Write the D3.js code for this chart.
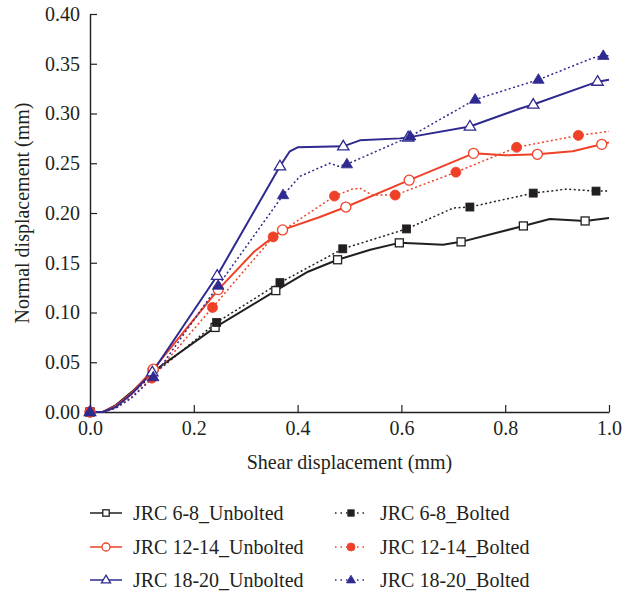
<!DOCTYPE html>
<html>
<head>
<meta charset="utf-8">
<script src="https://cdn.jsdelivr.net/npm/d3@7"></script>
<style>
  html, body { margin: 0; padding: 0; background: #fff; }
  svg { display: block; }
  text { font-family: "Liberation Serif", "Times New Roman", serif; fill: #231f20; }
</style>
</head>
<body>
<svg id="chart" width="634" height="595"></svg>
<script>
// ---- data (x = shear displacement mm, y = normal displacement mm, m = 1 -> marker drawn) ----
const xTicks = [0.0, 0.2, 0.4, 0.6, 0.8, 1.0];
const yTicks = [0.00, 0.05, 0.10, 0.15, 0.20, 0.25, 0.30, 0.35, 0.40];

const jrc68Unbolted = [
  [0, 0, 1], [0.025, 0.0, 0], [0.05, 0.007, 0], [0.08, 0.020, 0], [0.12, 0.040, 1], [0.241, 0.085, 1],
  [0.358, 0.122, 1], [0.42, 0.141, 0], [0.477, 0.153, 1], [0.54, 0.163, 0], [0.596, 0.170, 1],
  [0.64, 0.169, 0], [0.68, 0.168, 0], [0.715, 0.171, 1], [0.835, 0.187, 1], [0.886, 0.194, 0],
  [0.954, 0.192, 1], [1.0, 0.195, 0]
];
const jrc68Bolted = [
  [0, 0, 1], [0.025, 0.0, 0], [0.05, 0.006, 0], [0.08, 0.018, 0], [0.12, 0.037, 1], [0.244, 0.090, 1],
  [0.366, 0.130, 1], [0.487, 0.164, 1], [0.610, 0.184, 1], [0.70, 0.205, 0],
  [0.732, 0.206, 1], [0.854, 0.220, 1], [0.918, 0.224, 0], [0.975, 0.222, 1], [1.0, 0.222, 0]
];
const jrc1214Unbolted = [
  [0, 0, 1], [0.025, 0.0, 0], [0.05, 0.006, 0], [0.08, 0.019, 0], [0.122, 0.043, 1], [0.247, 0.123, 1],
  [0.316, 0.161, 0], [0.371, 0.183, 1], [0.443, 0.196, 0], [0.493, 0.206, 1],
  [0.615, 0.233, 1], [0.739, 0.260, 1], [0.80, 0.258, 0], [0.862, 0.259, 1],
  [0.93, 0.262, 0], [0.986, 0.269, 1], [1.0, 0.271, 0]
];
const jrc1214Bolted = [
  [0, 0, 1], [0.025, 0.0, 0], [0.05, 0.004, 0], [0.08, 0.015, 0], [0.119, 0.034, 1], [0.236, 0.105, 1],
  [0.353, 0.176, 1], [0.471, 0.217, 1], [0.505, 0.224, 0], [0.520, 0.225, 0], [0.543, 0.218, 0],
  [0.588, 0.218, 1], [0.705, 0.241, 1], [0.822, 0.266, 1], [0.941, 0.278, 1], [1.0, 0.282, 0]
];
const jrc1820Unbolted = [
  [0, 0, 1], [0.025, 0.0, 0], [0.05, 0.005, 0], [0.08, 0.018, 0], [0.12, 0.040, 1], [0.245, 0.137, 1],
  [0.366, 0.247, 1], [0.385, 0.262, 0], [0.400, 0.266, 0], [0.488, 0.267, 1],
  [0.520, 0.273, 0], [0.597, 0.275, 0], [0.613, 0.276, 1], [0.732, 0.287, 1],
  [0.829, 0.305, 0], [0.854, 0.309, 1], [0.978, 0.332, 1], [1.0, 0.334, 0]
];
const jrc1820Bolted = [
  [0, 0, 1], [0.025, 0.0, 0], [0.05, 0.004, 0], [0.08, 0.014, 0], [0.122, 0.035, 1], [0.247, 0.127, 1],
  [0.372, 0.218, 1], [0.405, 0.237, 0], [0.462, 0.250, 0], [0.478, 0.247, 0],
  [0.495, 0.249, 1], [0.617, 0.277, 1], [0.742, 0.314, 1], [0.864, 0.334, 1],
  [0.970, 0.356, 0], [0.989, 0.358, 1], [1.0, 0.358, 0]
];

const seriesNames = ["JRC 6-8_Unbolted", "JRC 6-8_Bolted", "JRC 12-14_Unbolted",
                     "JRC 12-14_Bolted", "JRC 18-20_Unbolted", "JRC 18-20_Bolted"];
const seriesData = [jrc68Unbolted, jrc68Bolted, jrc1214Unbolted, jrc1214Bolted, jrc1820Unbolted, jrc1820Bolted];
const seriesColors = ["#231f20", "#231f20", "#ee4128", "#ee4128", "#2e2a8f", "#2e2a8f"];
const seriesDotted = [false, true, false, true, false, true];
const seriesSymbols = ["square", "square", "circle", "circle", "triangle", "triangle"];
const seriesFilled = [false, true, false, true, false, true];

// ---- layout ----
const SERIF = "'Liberation Serif', 'Times New Roman', serif";
const svg = d3.select("#chart");
const x = d3.scaleLinear().domain([0, 1]).range([90, 609]);
const y = d3.scaleLinear().domain([0, 0.4]).range([412, 14]);
const FONT = 20;

const xAxis = d3.axisBottom(x).tickValues(xTicks).tickFormat(d3.format(".1f"))
  .tickSizeInner(-7).tickSizeOuter(0).tickPadding(9);
const yAxis = d3.axisLeft(y).tickValues(yTicks).tickFormat(d3.format(".2f"))
  .tickSizeInner(-7).tickSizeOuter(0).tickPadding(10);

const gx = svg.append("g").attr("transform", "translate(0,412)").call(xAxis);
const gy = svg.append("g").attr("transform", "translate(90,0)").call(yAxis);
[gx, gy].forEach(g => {
  g.attr("font-family", SERIF).attr("font-size", FONT);
  g.select(".domain").attr("stroke", "#231f20").attr("stroke-width", 1.4);
  g.selectAll(".tick line").attr("stroke", "#231f20").attr("stroke-width", 1.2);
  g.selectAll(".tick text").attr("font-size", FONT).attr("font-family", SERIF).attr("fill", "#231f20");
});

svg.append("text").attr("x", 349.5).attr("y", 469).attr("text-anchor", "middle")
  .attr("font-family", SERIF).attr("font-size", FONT).text("Shear displacement (mm)");
svg.append("text").attr("transform", "translate(29,213) rotate(-90)")
  .attr("text-anchor", "middle").attr("font-family", SERIF).attr("font-size", FONT)
  .text("Normal displacement (mm)");

// ---- marker drawing ----
function drawMarker(g, sym, cx, cy, color, filled, scale) {
  const s = scale || 1;
  let el;
  if (sym === "square") {
    const h = 4 * s;
    el = g.append("rect").attr("x", cx - h).attr("y", cy - h).attr("width", 2 * h).attr("height", 2 * h);
  } else if (sym === "circle") {
    el = g.append("circle").attr("cx", cx).attr("cy", cy).attr("r", 5 * s);
  } else {
    const r = 6 * s;
    const pts = [[cx, cy - r], [cx + r * 0.95, cy + r * 0.6], [cx - r * 0.95, cy + r * 0.6]];
    el = g.append("polygon").attr("points", pts.map(p => p.join(",")).join(" "));
  }
  el.attr("fill", filled ? color : "#fff").attr("stroke", color).attr("stroke-width", filled ? 0.8 : 1.3);
}

// ---- lines ----
const line = d3.line().x(d => x(d[0])).y(d => y(d[1])).curve(d3.curveLinear);
const plot = svg.append("g");
seriesData.forEach((data, i) => {
  plot.append("path").datum(data).attr("d", line).attr("fill", "none")
    .attr("stroke", seriesColors[i])
    .attr("stroke-width", seriesDotted[i] ? 1.5 : 2)
    .attr("stroke-linejoin", "round")
    .attr("stroke-dasharray", seriesDotted[i] ? "2,2.5" : null);
});
seriesData.forEach((data, i) => {
  const g = plot.append("g");
  data.filter(d => d[2] === 1).forEach(d => {
    drawMarker(g, seriesSymbols[i], x(d[0]), y(d[1]), seriesColors[i], seriesFilled[i], 1);
  });
});

// ---- legend ----
const legend = svg.append("g");
const rowY = [513, 547, 580];
seriesNames.forEach((name, i) => {
  const col = i % 2, row = Math.floor(i / 2);
  const x0 = col === 0 ? 90 : 335, x1 = col === 0 ? 122 : 367, tx = col === 0 ? 133 : 380;
  const cy = rowY[row];
  legend.append("line").attr("x1", x0).attr("x2", x1).attr("y1", cy).attr("y2", cy)
    .attr("stroke", seriesColors[i]).attr("stroke-width", 1.5)
    .attr("stroke-dasharray", seriesDotted[i] ? "1.5,4" : null);
  drawMarker(legend, seriesSymbols[i], (x0 + x1) / 2, cy, seriesColors[i], seriesFilled[i], 0.8);
  legend.append("text").attr("x", tx).attr("y", cy + 6.5).attr("font-family", SERIF)
    .attr("font-size", FONT).text(name);
});
</script>
</body>
</html>
